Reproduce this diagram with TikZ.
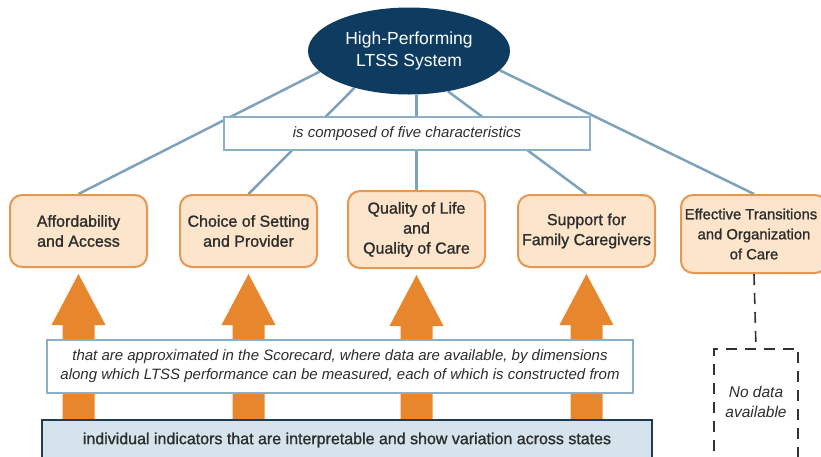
\documentclass[tikz,border=0pt]{standalone}
\usepackage{fontspec}
\setmainfont{Liberation Sans}
\newfontfamily\medfont[FakeBold=1.2]{Liberation Sans}
\usetikzlibrary{shapes.geometric}
\pgfdeclarelayer{bg}
\pgfsetlayers{bg,main}
\definecolor{navy}{RGB}{14,60,96}
\definecolor{steel}{RGB}{127,162,187}
\definecolor{steelb}{RGB}{140,175,200}
\definecolor{peach}{RGB}{252,229,203}
\definecolor{orangeb}{RGB}{230,152,82}
\definecolor{arrowc}{RGB}{232,134,46}
\definecolor{indfill}{RGB}{213,228,236}
\definecolor{indborder}{RGB}{30,60,85}
\definecolor{txt}{RGB}{45,45,45}
\definecolor{dashc}{RGB}{50,50,50}
\tikzset{
  link/.style={draw=steel, line width=2.5pt},
  charbox/.style={draw=orangeb, line width=2pt, fill=peach, rounded corners=12pt,
    minimum width=137pt, minimum height=72pt, inner sep=0pt, align=center,
    text=txt, font=\medfont\fontsize{16}{20}\selectfont},
  labelbox/.style={draw=steelb, line width=2pt, fill=white, inner sep=0pt, align=center,
    text=txt, font=\itshape\fontsize{15}{19}\selectfont},
  dashline/.style={draw=dashc, line width=1.6pt, dash pattern=on 11pt off 8pt},
}
\begin{document}
\begin{tikzpicture}[x=1pt,y=-1pt]
\useasboundingbox (0,0) rectangle (821,456);
\clip (0,0) rectangle (821,456);
\begin{pgfonlayer}{bg}
\fill[white] (0,0) rectangle (821,456);
\end{pgfonlayer}

% top ellipse
\node[ellipse, fill=navy, minimum width=202pt, minimum height=87pt, inner sep=0pt,
  text=white, align=center, font=\fontsize{17.5}{22}\selectfont] (sys) at (409,51)
  {High-Performing\\LTSS System};

% characteristic boxes
\node[charbox] (aff) at (78.5,231) {Affordability\\and Access};
\node[charbox] (cho) at (248.5,231) {Choice of Setting\\and Provider};
\node[charbox, minimum height=77pt] (qual) at (416.5,229.5) {Quality of Life\\and\\Quality of Care};
\node[charbox] (sup) at (586.5,231) {Support for\\Family Caregivers};
\node[charbox, minimum width=146pt, minimum height=78pt, font=\medfont\fontsize{14.8}{20}\selectfont]
  (eff) at (754,234) {\hspace*{-6pt}Effective Transitions\\and Organization\\of Care};

% links (behind boxes)
\begin{pgfonlayer}{bg}
\draw[link] (sys.193.6) -- (aff.north);
\draw[link] (sys.214) -- (cho.north);
\draw[link] (qual.north) -- (qual.north |- sys.south);
\draw[link] (sys.314) -- (sup.north);
\draw[link] (sys.348) -- (eff.north);
\end{pgfonlayer}

% composed label
\node[labelbox, minimum width=366pt, minimum height=33pt] (comp) at (407,133.5)
  {is composed of five characteristics};

% big arrows
\foreach \n in {aff,cho,qual,sup}{
  \path (\n.south) ++(0,6) coordinate (tip);
  \fill[arrowc] (tip) -- ++(27,51) -- ++(-11,0) -- ++(0,200) -- ++(-32,0)
     -- ++(0,-200) -- ++(-11,0) -- cycle;
}

% approximated label
\node[labelbox, minimum width=586pt, minimum height=53pt]
  (approx) at (340,366.5)
  {that are approximated in the Scorecard, where data are available, by dimensions\\
   along which LTSS performance can be measured, each of which is constructed from};

% indicators
\node[draw=indborder, line width=2pt, fill=indfill, minimum width=610pt, minimum height=40pt,
  inner sep=0pt, text=txt, font=\medfont\fontsize{16}{18}\selectfont] (ind) at (347,440)
  {individual indicators that are interpretable and show variation across states};

% no data
\node[minimum width=84pt, minimum height=106pt, inner sep=0pt, align=center, text=txt,
  font=\itshape\fontsize{15.5}{20}\selectfont] (nd) at (756,402) {No data\\available};
\draw[dashline] (nd.north west |- 0,470) -- (nd.north west) -- (nd.north east) -- (nd.north east |- 0,470);
\draw[dashline] (eff.south) -- (nd.north);
\end{tikzpicture}
\end{document}
